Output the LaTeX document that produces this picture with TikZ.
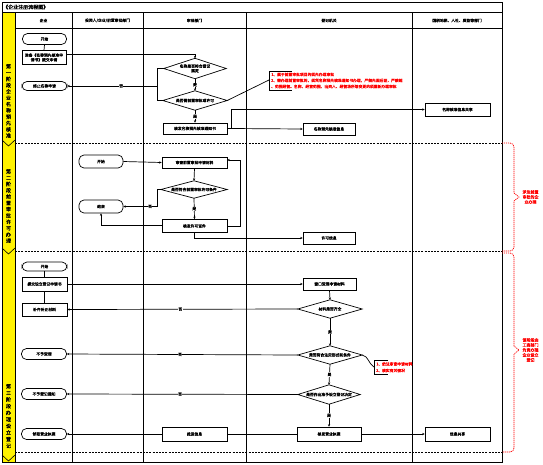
\documentclass[tikz,border=0pt]{standalone}
\usepackage{fontspec}
\setmainfont{Noto Sans CJK SC}[AutoFakeBold=1.0]
\usetikzlibrary{arrows.meta,calc}
\newcommand{\fs}{\fontsize{3.8}{4.6}\selectfont\bfseries}
\newcommand{\mydia}[5]{%
  \node[minimum width=#3, minimum height=#4, align=center] (#1) at #2 {#5};
  \draw[line width=0.7pt] (#1.west)--(#1.north)--(#1.east)--(#1.south)--cycle;}
\begin{document}
\begin{tikzpicture}[x=1pt,y=-1pt,
  every node/.style={inner sep=0pt, font=\fs},
  pbox/.style={draw, line width=0.7pt, minimum width=#1, minimum height=12pt, align=center},
  pterm/.style={draw, line width=0.7pt, rounded corners=5pt, minimum width=#1, minimum height=11pt, align=center},
  conn/.style={line width=0.7pt},
  arr/.style={line width=0.7pt, -{Stealth[length=2.4pt,width=2.2pt]}},
  yn/.style={fill=white, inner sep=0.4pt},
  lanedash/.style={line width=0.6pt, dash pattern=on 2pt off 1.2pt},
  redtxt/.style={text=red, anchor=west},
  brace/.style={red, line width=0.7pt, dash pattern=on 1.2pt off 0.8pt}]
\useasboundingbox (0,0) rectangle (543,464);
\fill[white] (0,0) rectangle (543,464);

% yellow band
\fill[yellow] (2,12) rectangle (15,462);
% frame
\draw[line width=0.8pt] (2,2) rectangle (502,462);
\draw[line width=0.8pt] (2,12) -- (502,12);
\draw[line width=0.8pt] (15,28) -- (502,28);
\foreach \xx in {15,72,143,246,412} \draw[line width=0.8pt] (\xx,12) -- (\xx,462);
% chevrons
\foreach \yy in {140,248,455} \draw[line width=0.6pt] (2,\yy) -- (8.5,\yy+6) -- (15,\yy);
% lane separators
\foreach \yy in {143,251,452} \draw[lanedash] (15,\yy) -- (502,\yy);

% title and headers
\node[anchor=west, font=\fontsize{5}{6}\selectfont\bfseries] (title) at (3,7) {《企业注册流程图》};
\node (h1) at (43.5,20.5) {企业};
\node (h2) at (107.5,20.5) {投资人/企业/前置审批部门};
\node (h3) at (194.5,20.5) {审批部门};
\node (h4) at (329,20.5) {登记机关};
\node (h5) at (457,20.5) {国税地税、人社、质监等部门};

% lane labels
\node[align=center, font=\fontsize{5}{6.3}\selectfont\bfseries] (l1) at (8.5,101) {第\\一\\阶\\段\\企\\业\\名\\称\\预\\先\\核\\准};
\node[align=center, font=\fontsize{5}{6.3}\selectfont\bfseries] (l2) at (8.5,206) {第\\二\\阶\\段\\前\\置\\审\\批\\许\\可\\办\\理};
\node[align=center, font=\fontsize{5}{6.6}\selectfont\bfseries] (l3) at (8.5,416) {第\\三\\阶\\段\\办\\理\\设\\立\\登\\记};

% ---------- lane 1 ----------
\node[pterm=44pt] (t1) at (44.5,39) {开始};
\node[pbox=44pt, minimum height=14pt] (b1) at (44,57.5) {准备《名称预先核准申\\请书》提交申请};
\node[pterm=45pt, minimum height=9pt] (t2) at (44.5,86) {终止名称申请};
\mydia{d1}{(195,68.5)}{62pt}{20pt}{名称是否符合登记\\规定}
\mydia{d2}{(195,100.5)}{64pt}{19pt}{是否需前置审批或许可}
\node[pbox=64pt, minimum height=11pt] (b2) at (195,128.5) {核发名称预先核准通知书};
\node[pbox=52pt] (b3) at (329,129) {名称预先核准信息};
\node[pbox=65pt, minimum height=13pt] (b4) at (457.5,109.5) {名称核准信息共享};

\draw[conn] (t1.south) -- (b1.north);
\draw[arr] ([yshift=3pt]b1.east) -| (d1.north);
\draw[arr] (d1.south) -- node[yn]{是} (d2.north);
\draw[conn] (d1.west) -- (157,68.5) -- (157,100.5) -- (d2.west);
\draw[arr] (157,86) -- node[yn, pos=0.4]{否} (t2.east);
\draw[arr] (d2.south) -- node[yn]{是} (b2.north);
\coordinate (j1) at (231,128.5);
\draw[conn] (b2.east) -- (j1);
\draw[arr] (j1) -- (b3.west);
\draw[arr] (j1) |- (b4.west);

% annotation 1
\coordinate (a1) at (269,80);
\draw[conn] (d2.east) -- (a1);
\draw[line width=0.7pt] (292,71) -- (269,71) -- (269,90) -- (292,90);
\node[redtxt] (r11) at (271,74.5) {1、属于前置审批项目的须先办理审批};
\node[redtxt] (r12) at (271,80.5) {2、需办理前置审批的，须凭名称预先核准通知书办理，严禁先照后证，严禁超};
\node[redtxt] (r13) at (271,86.5) {、范围经营。名称、经营范围、出资人、经营场所等变更的须重新办理审批};

% ---------- lane 2 ----------
\node[pterm=44pt, minimum height=13pt] (t3) at (101,161.5) {开始};
\node[pbox=65pt, minimum height=11pt] (b5) at (194.5,162.5) {审查前置审批申请材料};
\mydia{d3}{(194,189.5)}{66pt}{17pt}{是否符合前置审批许可条件}
\node[pterm=44pt, minimum height=13pt] (t4) at (101,206.5) {结束};
\node[pbox=65pt, minimum height=13pt] (b6) at (194.5,226) {核发许可证件};
\node[pbox=52pt] (b7) at (329,238) {许可信息};

\draw[arr] (t3.east) -- (b5.west);
\draw[arr] (b5.south) -- (d3.north);
\draw[conn] (d3.west) -- (157,189.5) -- (157,206.5);
\draw[arr] (157,206.5) -- (t4.east);
\node[yn] (n3) at (150,206.5) {否};
\draw[arr] (d3.south) -- node[yn]{是} (b6.north);
\draw[arr] (b6.east) -- (240,226) -- (240,160) -- ([yshift=2.5pt]b5.east);
\draw[arr] ([yshift=1pt]b6.west) -| (t4.south);
\draw[arr] (b6.south) |- (b7.west);

% ---------- lane 3 ----------
\node[pterm=45pt, minimum height=9pt] (t5) at (44.5,266.5) {开始};
\node[pbox=45pt, minimum height=14pt] (b8) at (44.5,284) {提交设立登记申请书};
\node[pbox=45pt, minimum height=13pt] (b9) at (44.5,309.5) {补齐补正材料};
\node[pterm=45pt] (t6) at (44,354) {不予受理};
\node[pterm=45pt] (t7) at (44,394) {不予登记通知};
\node[pterm=45pt] (t8) at (44,434) {领取营业执照};
\node[pbox=53pt] (b10) at (329.5,284) {窗口受理申请材料};
\mydia{d4}{(330,309)}{64pt}{18pt}{材料是否齐全}
\mydia{d5}{(330,355)}{64pt}{18pt}{是否符合法定形式和条件}
\mydia{d6}{(329,394.5)}{62pt}{19pt}{是否作出准予设立登记决定}
\node[pbox=64pt, minimum height=14pt] (b11) at (329,434) {核发营业执照};
\node[pbox=65pt, minimum height=14pt] (b12) at (194.5,434) {推送信息};
\node[pbox=65pt, minimum height=14pt] (b13) at (457.5,434) {信息共享};

\draw[conn] (t5.south) -- (b8.north);
\draw[conn] (b8.south) -- (b9.north);
\draw[arr] (b8.east) -- (b10.west);
\draw[arr] (b10.south) -- (d4.north);
\draw[arr] (d4.west) -- node[yn, pos=0.51]{否} (b9.east);
\draw[arr] (d4.south) -- node[yn]{是} (d5.north);
\draw[arr] (d5.west) -- node[yn, pos=0.51]{否} (t6.east);
\draw[arr] (d5.south) -- node[yn]{是} (d6.north);
\draw[arr] (d6.west) -- node[yn, pos=0.51]{否} (t7.east);
\draw[arr] (d6.south) -- node[yn]{是} (b11.north);
\draw[conn] (b11.west) -- (b12.east);
\draw[arr] (b12.west) -- (t8.east);
\draw[arr] (b11.east) -- (b13.west);

% annotation 2
\coordinate (a2) at (374,367);
\draw[conn] (d5.east) to[out=-10,in=150] (a2);
\draw[line width=0.7pt] (388,360) -- (374,360) -- (374,374) -- (388,374);
\node[redtxt] (r21) at (376,364) {1、依法审查申请材料};
\node[redtxt] (r22) at (376,370.5) {2、核实有关情况};

% braces
\draw[brace] (502,143) -- (510,143) to[out=0,in=90] (514,147) -- (514,193) -- (519,197) -- (514,201) -- (514,247) to[out=-90,in=0] (510,251) -- (502,251);
\node[text=red, align=center, font=\fontsize{4}{5}\selectfont\bfseries] (bt2) at (530.5,197) {涉及前置\\审批的企\\业办理};
\draw[brace] (502,253) -- (510,253) to[out=0,in=90] (514,257) -- (514,346) -- (519,350) -- (514,354) -- (514,448) to[out=-90,in=0] (510,452) -- (502,452);
\node[text=red, align=center, font=\fontsize{4}{5}\selectfont\bfseries] (bt3) at (530.5,350) {该阶段由\\工商部门\\负责办理\\企业设立\\登记};
\end{tikzpicture}
\end{document}
